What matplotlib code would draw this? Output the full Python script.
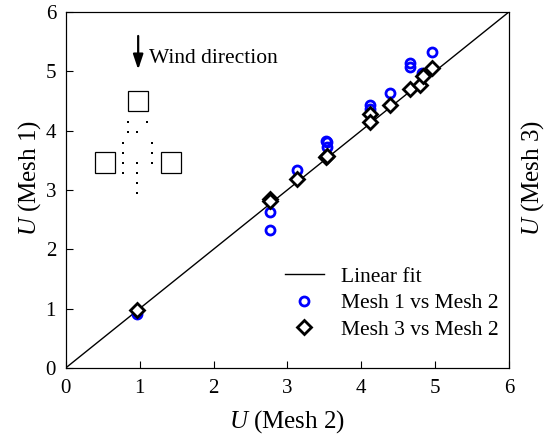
import matplotlib
matplotlib.use("Agg")
import matplotlib.pyplot as plt
from matplotlib.patches import Rectangle

plt.rcParams['font.family'] = ['Liberation Serif', 'DejaVu Serif']
plt.rcParams['mathtext.fontset'] = 'custom'
plt.rcParams['mathtext.rm'] = 'Liberation Serif'
plt.rcParams['mathtext.it'] = 'Liberation Serif:italic'

# Mesh 1 vs Mesh 2
m2_a = [0.97, 2.76, 2.76, 3.13, 3.52, 3.53, 3.53, 4.12, 4.12, 4.39, 4.66, 4.66, 4.82, 4.95]
m1 = [0.91, 2.62, 2.33, 3.34, 3.82, 3.80, 3.72, 4.43, 4.36, 4.64, 5.14, 5.07, 4.97, 5.32]
# Mesh 3 vs Mesh 2
m2_b = [0.97, 2.76, 2.76, 3.13, 3.52, 3.54, 4.12, 4.12, 4.39, 4.66, 4.80, 4.83, 4.95]
m3 = [0.98, 2.85, 2.82, 3.18, 3.55, 3.57, 4.28, 4.14, 4.43, 4.70, 4.77, 4.92, 5.06]
fit = [0, 6]

fig = plt.figure(figsize=(5.48, 4.38), dpi=100)
ax = fig.add_axes([0.120, 0.160, 0.809, 0.813])

ax.plot(fit, fit, color='black', lw=1, label='Linear fit')
ax.plot(m2_a, m1, 'o', mfc='none', mec='#0000ff', mew=2, ms=6.5,
        label='Mesh 1 vs Mesh 2')
ax.plot(m2_b, m3, 'D', mfc='white', mec='black', mew=2, ms=7,
        label='Mesh 3 vs Mesh 2')

ax.set_xlim(0, 6)
ax.set_ylim(0, 6)
ax.set_xticks(range(7))
ax.set_yticks(range(7))
ax.tick_params(direction='in', length=5, labelsize=15, top=False, right=False)
ax.tick_params(axis='x', pad=8)
ax.tick_params(axis='y', pad=7)
ax.set_xlabel(r'$\it{U}$ (Mesh 2)', fontsize=18, labelpad=7)
ax.set_ylabel(r'$\it{U}$ (Mesh 1)', fontsize=18, labelpad=2)
ax.yaxis.label.set_y(0.535)

ax2 = ax.twinx()
ax2.set_ylim(0, 6)
ax2.set_yticks([])
ax2.set_ylabel(r'$\it{U}$ (Mesh 3)', fontsize=18, labelpad=7)
ax2.yaxis.label.set_y(0.535)

leg = ax.legend(loc='lower right', bbox_to_anchor=(1.02, 0.025), frameon=False,
                fontsize=15.5, handlelength=1.8, handletextpad=0.8,
                labelspacing=0.3)

# building layout sketch
for x0, y0 in [(0.84, 4.33), (0.39, 3.29), (1.29, 3.29)]:
    ax.add_patch(Rectangle((x0, y0), 0.27, 0.34, fill=False, lw=0.9,
                           edgecolor='black'))
dots_x = [0.845, 1.10, 0.845, 0.97, 0.777, 1.17, 0.777, 1.17, 0.777, 0.97,
          1.17, 0.777, 0.97, 0.97, 0.97]
dots_y = [4.15, 4.15, 3.97, 3.97, 3.79, 3.79, 3.62, 3.62, 3.45, 3.45,
          3.45, 3.28, 3.28, 3.11, 2.95]
ax.plot(dots_x, dots_y, 's', color='black', ms=1.6, mew=0)
ax.annotate('', xy=(0.98, 4.98), xytext=(0.98, 5.64),
            arrowprops=dict(arrowstyle='-|>,head_width=0.3,head_length=0.9',
                            color='black', lw=1.6))
ax.text(1.12, 5.22, 'Wind direction', fontsize=15.5, va='center', ha='left')

fig.savefig('out.png', dpi=100)
